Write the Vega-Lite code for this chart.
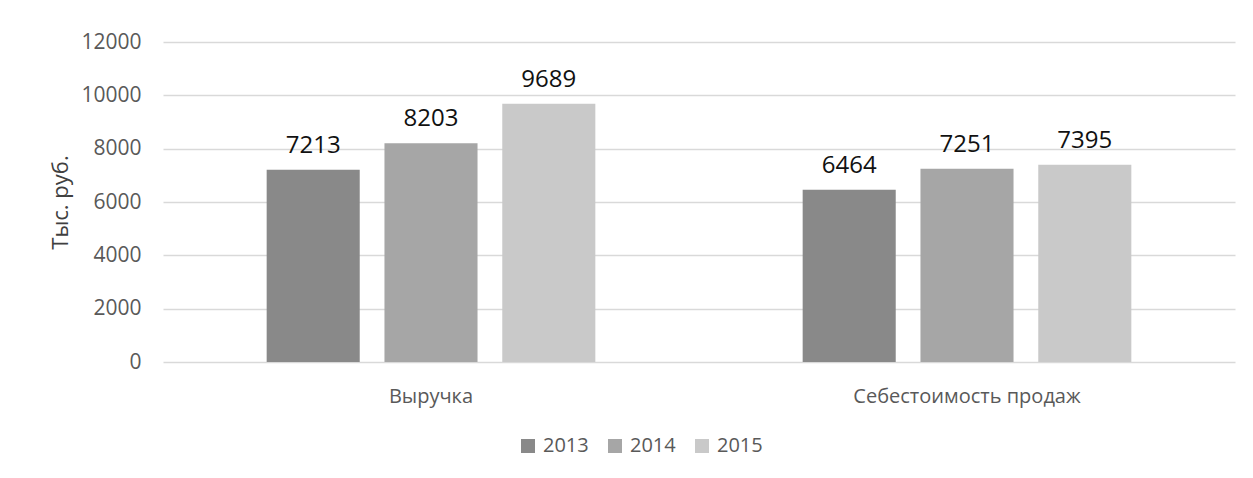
{
  "$schema": "https://vega.github.io/schema/vega-lite/v6.json",
  "width": 1072,
  "height": 320,
  "autosize": {"type": "none"},
  "padding": {"left": 163, "top": 42, "right": 18, "bottom": 116},
  "background": "#ffffff",
  "config": {
    "font": "Open Sans",
    "view": {"stroke": null},
    "axis": {"labelFont": "Open Sans", "titleFont": "Open Sans"}
  },
  "data": {
    "values": [
      {"category": "Выручка", "year": "2013", "value": 7213},
      {"category": "Выручка", "year": "2014", "value": 8203},
      {"category": "Выручка", "year": "2015", "value": 9689},
      {"category": "Себестоимость продаж", "year": "2013", "value": 6464},
      {"category": "Себестоимость продаж", "year": "2014", "value": 7251},
      {"category": "Себестоимость продаж", "year": "2015", "value": 7395}
    ]
  },
  "encoding": {
    "x": {
      "field": "category",
      "type": "nominal",
      "sort": ["Выручка", "Себестоимость продаж"],
      "scale": {"paddingInner": 0, "paddingOuter": 0},
      "axis": {
        "title": null,
        "labelAngle": 0,
        "domain": false,
        "ticks": false,
        "labelFontSize": 20,
        "labelLimit": 0,
        "labelColor": "#595959",
        "labelBaseline": "alphabetic",
        "labelPadding": 40
      }
    },
    "xOffset": {
      "field": "year",
      "type": "nominal",
      "scale": {"paddingInner": 0.21, "paddingOuter": 0.88}
    },
    "y": {
      "field": "value",
      "type": "quantitative",
      "scale": {"domain": [0, 12000], "nice": false},
      "axis": {
        "title": "Тыс. руб.",
        "values": [0, 2000, 4000, 6000, 8000, 10000, 12000],
        "format": "d",
        "domain": false,
        "ticks": false,
        "labelFontSize": 21,
        "labelColor": "#595959",
        "labelPadding": 22,
        "gridColor": "#d9d9d9",
        "gridWidth": 1.5,
        "titleFontSize": 22,
        "titleFontWeight": "normal",
        "titleColor": "#404040",
        "titleX": -96,
        "titleY": 160,
        "titleBaseline": "alphabetic",
        "titleAngle": 270
      }
    }
  },
  "layer": [
    {
      "mark": {"type": "bar"},
      "encoding": {
        "color": {
          "field": "year",
          "type": "nominal",
          "scale": {"domain": ["2013", "2014", "2015"], "range": ["#898989", "#a6a6a6", "#c9c9c9"]},
          "legend": {
            "title": null,
            "orient": "none",
            "direction": "horizontal",
            "legendX": 355,
            "legendY": 394,
            "padding": 0,
            "symbolType": "square",
            "symbolSize": 196,
            "symbolStrokeWidth": 0,
            "labelFontSize": 20,
            "labelColor": "#595959",
            "labelOffset": 5,
            "columnPadding": 16
          }
        }
      }
    },
    {
      "mark": {"type": "text", "baseline": "alphabetic", "dy": -17, "fontSize": 24, "color": "#111111"},
      "encoding": {
        "text": {"field": "value", "type": "quantitative", "format": "d"}
      }
    }
  ]
}
